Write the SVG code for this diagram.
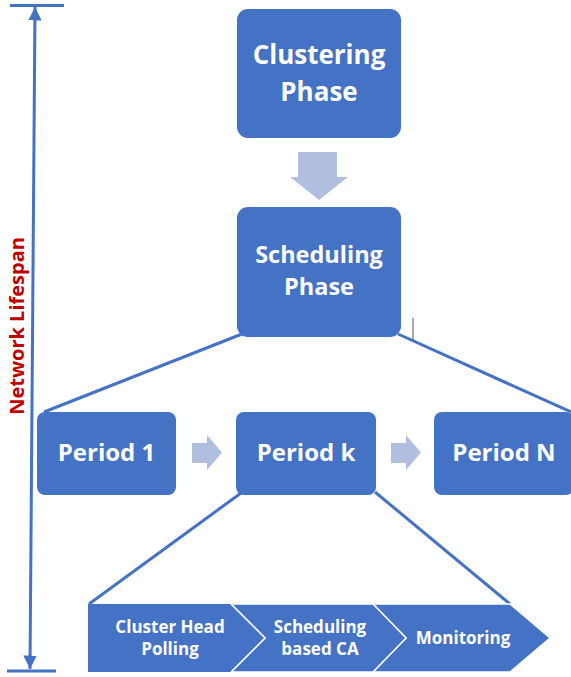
<svg xmlns="http://www.w3.org/2000/svg" width="571" height="677" viewBox="0 0 571 677">
<style>
.box{fill:#4472C4;}
.t{font-family:"Open Sans",sans-serif;font-weight:bold;fill:#fff;text-anchor:middle;}
.big{font-size:26px;}
.med{font-size:23.5px;}
.per{font-size:24px;}
.sm{font-size:17px;}
.ln{stroke:#4472C4;stroke-width:3;fill:none;}
.arr{fill:#B0BEE0;}
.sep{stroke:#fff;stroke-width:1.5;fill:#4472C4;}
</style>
<defs>
<marker id="ah" viewBox="0 0 10 10" refX="10" refY="5" markerWidth="4.5" markerHeight="4.5" orient="auto-start-reverse" markerUnits="strokeWidth">
<path d="M0,0 L10,5 L0,10 z" fill="#4472C4"/>
</marker>
</defs>
<g id="lifespan">
<line class="ln" x1="10" y1="5.5" x2="64" y2="5.5"/>
<line class="ln" x1="7" y1="671" x2="56" y2="671"/>
<line class="ln" x1="35" y1="7" x2="30" y2="669" marker-start="url(#ah)" marker-end="url(#ah)"/>
<text x="0" y="0" transform="translate(24,326) rotate(-90)" style="font-family:'Open Sans',sans-serif;font-weight:bold;font-size:20px;fill:#C00000;text-anchor:middle">Network Lifespan</text>
</g>
<g id="connectors">
<line class="ln" x1="242" y1="334" x2="44" y2="412"/>
<line class="ln" x1="398" y1="334" x2="571" y2="412"/>
<line class="ln" x1="241" y1="493" x2="89" y2="604"/>
<line class="ln" x1="375" y1="492" x2="510" y2="604"/>
<line x1="413" y1="318" x2="413" y2="340" stroke="#555" stroke-width="1"/>
<path class="arr" d="M298,152 H337 V177 H348 L319,200 L290,177 H298 z"/>
<path class="arr" d="M192,443 H207 V435 L222,452.5 L207,470 V463 H192 z"/>
<path class="arr" d="M391,443 H406 V435 L421,452.5 L406,470 V463 H391 z"/>
</g>
<g id="clustering">
<rect class="box" x="237" y="9" width="164" height="129" rx="11"/>
<text class="t big" x="319" y="64">Clustering</text>
<text class="t big" x="319" y="101">Phase</text>
</g>
<g id="scheduling">
<rect class="box" x="237" y="207" width="164" height="130" rx="11"/>
<text class="t med" x="319" y="263">Scheduling</text>
<text class="t med" x="319" y="295">Phase</text>
</g>
<g id="period1">
<rect class="box" x="37" y="412" width="139" height="83" rx="8"/>
<text class="t per" x="106.5" y="461">Period 1</text>
</g>
<g id="periodk">
<rect class="box" x="236" y="412" width="140" height="83" rx="8"/>
<text class="t per" x="306" y="461">Period k</text>
</g>
<g id="periodN">
<rect class="box" x="434" y="412" width="140" height="83" rx="8"/>
<text class="t per" x="504" y="461">Period N</text>
</g>
<g id="chevrons">
<path class="sep" d="M373,604 H510 L550,638 L510,672 H373 L406,638 z"/>
<path class="sep" d="M231,604 H373 L406,638 L373,672 H231 L265,638 z"/>
<path class="box" d="M88,604 H231 L265,638 L231,672 H88 z"/>
<path d="M231,604 L265,638 L231,672" stroke="#fff" stroke-width="1.5" fill="none"/>
<text class="t sm" x="170" y="633">Cluster Head</text>
<text class="t sm" x="170" y="655">Polling</text>
<text class="t sm" x="320" y="633">Scheduling</text>
<text class="t sm" x="320" y="655">based CA</text>
<text class="t sm" x="463" y="644">Monitoring</text>
</g>
</svg>
